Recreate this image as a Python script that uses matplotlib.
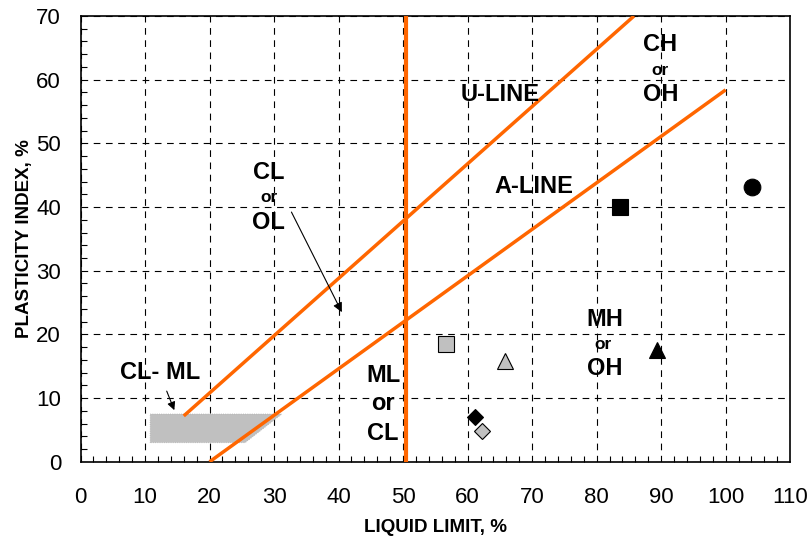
import matplotlib
matplotlib.use("Agg")
import matplotlib.pyplot as plt
from matplotlib.patches import Polygon
from matplotlib.ticker import MultipleLocator

plt.rcParams['font.family'] = ['Liberation Sans', 'DejaVu Sans']

# Data
u_line_ll = [16, 85.8]
u_line_pi = [7.2, 70]
a_line_ll = [20, 100]
a_line_pi = [0, 58.4]
ll_boundary = 50.4

clml_zone = [(10.8, 3.0), (10.8, 7.5), (31.2, 7.5), (25.5, 3.0)]

samples = [
    # (LL, PI, marker, face, size)
    (104.1, 43.1, 'o', 'black', 12),
    (83.6, 40.0, 's', 'black', 11),
    (56.7, 18.5, 's', '#c0c0c0', 11),
    (65.8, 15.9, '^', '#c0c0c0', 11),
    (89.4, 17.5, '^', 'black', 11),
    (61.2, 7.0, 'D', 'black', 8),
    (62.3, 4.9, 'D', '#c0c0c0', 8),
]

orange = '#ff6600'

fig = plt.figure(figsize=(8.11, 5.42), dpi=100)
ax = fig.add_axes([0.0993, 0.148, 0.875, 0.8225])

ax.set_xlim(0, 110)
ax.set_ylim(0, 70)
ax.xaxis.set_major_locator(MultipleLocator(10))
ax.yaxis.set_major_locator(MultipleLocator(10))
ax.xaxis.set_minor_locator(MultipleLocator(2))
ax.yaxis.set_minor_locator(MultipleLocator(2))
ax.tick_params(which='both', direction='in', top=False, right=False)
ax.tick_params(which='major', length=0, labelsize=16)
ax.tick_params(axis='x', which='major', pad=18)
ax.tick_params(axis='y', which='major', pad=14)
ax.tick_params(which='minor', length=4, width=0.8)
ax.grid(True, which='major', color='black', linestyle=(0, (6, 5)), linewidth=0.8)
for s in ax.spines.values():
    s.set_linewidth(1.2)

ax.add_patch(Polygon(clml_zone, closed=True, facecolor='#c0c0c0', edgecolor='#b0b0b0',
                     linestyle=':', linewidth=0.6, zorder=2))

ax.plot(u_line_ll, u_line_pi, color=orange, linewidth=2.5, zorder=3, solid_capstyle='butt')
ax.plot(a_line_ll, a_line_pi, color=orange, linewidth=2.5, zorder=3, solid_capstyle='butt')
ax.axvline(ll_boundary, color=orange, linewidth=3, zorder=3)

for x, y, m, fc, ms in samples:
    ax.plot([x], [y], marker=m, markersize=ms, markerfacecolor=fc,
            markeredgecolor='black', markeredgewidth=0.8, linestyle='none', zorder=4)

big = dict(fontsize=17, fontweight='bold', ha='center', va='center', zorder=5)
small = dict(fontsize=12.5, fontweight='bold', ha='center', va='center', zorder=5)

ax.text(65.0, 57.6, 'U-LINE', **big)
ax.text(70.3, 43.2, 'A-LINE', **big)
ax.text(89.9, 65.5, 'CH', **big)
ax.text(89.9, 61.4, 'or', **small)
ax.text(89.9, 57.6, 'OH', **big)
ax.text(29.2, 45.5, 'CL', **big)
ax.text(29.2, 41.5, 'or', **small)
ax.text(29.2, 37.6, 'OL', **big)
ax.text(81.2, 22.3, 'MH', **big)
ax.text(81.0, 18.4, 'or', **small)
ax.text(81.2, 14.7, 'OH', **big)
ax.text(46.9, 13.6, 'ML', **big)
ax.text(46.9, 9.1, 'or', **big)
ax.text(46.9, 4.5, 'CL', **big)
ax.text(12.3, 14.0, 'CL- ML', **big)

ax.annotate('', xy=(40.7, 23.1), xytext=(32.5, 39.6),
            arrowprops=dict(arrowstyle='-|>', color='black', lw=0.8, mutation_scale=14), zorder=5)
ax.annotate('', xy=(14.7, 7.7), xytext=(13.2, 11.5),
            arrowprops=dict(arrowstyle='-|>', color='black', lw=0.8, mutation_scale=12), zorder=5)

ax.set_xlabel('LIQUID LIMIT, %', fontsize=13.5, fontweight='bold', labelpad=8)
ax.set_ylabel('PLASTICITY INDEX, %', fontsize=13.5, fontweight='bold', labelpad=2)

fig.savefig('out.png', dpi=100)
